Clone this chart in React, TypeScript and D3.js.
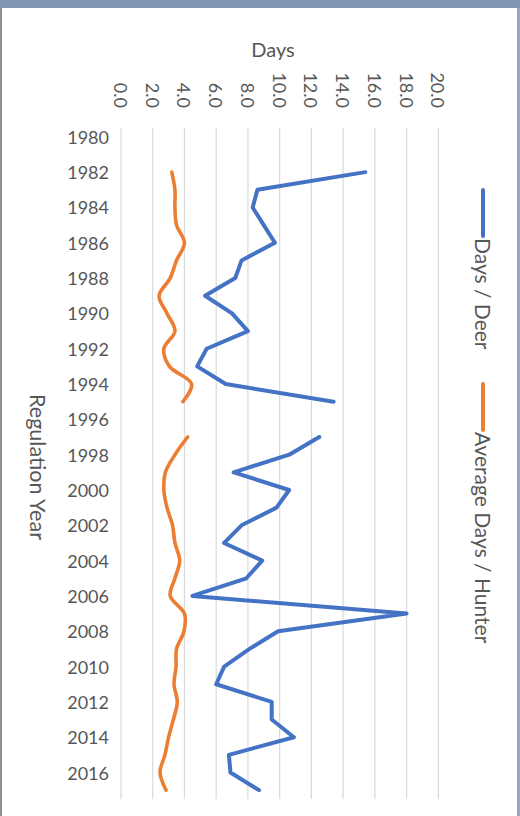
import React, { useEffect, useRef } from 'react';
import * as d3 from 'd3';

const years = [
  1980, 1981, 1982, 1983, 1984, 1985, 1986, 1987, 1988, 1989,
  1990, 1991, 1992, 1993, 1994, 1995, 1996, 1997, 1998, 1999,
  2000, 2001, 2002, 2003, 2004, 2005, 2006, 2007, 2008, 2009,
  2010, 2011, 2012, 2013, 2014, 2015, 2016, 2017,
];

// Days / Deer
const daysPerDeer: (number | null)[] = [
  null, null, 15.4, 8.6, 8.3, 9.0, 9.7, 7.6, 7.2, 5.3,
  7.0, 8.0, 5.4, 4.8, 6.6, 13.4, null, 12.5, 10.6, 7.1,
  10.6, 9.8, 7.6, 6.5, 8.9, 7.9, 4.5, 18.0, 9.9, 8.1,
  6.5, 6.0, 9.5, 9.5, 10.9, 6.8, 6.9, 8.7,
];

// Average Days / Hunter
const avgDaysPerHunter: (number | null)[] = [
  null, null, 3.2, 3.4, 3.4, 3.5, 4.0, 3.5, 3.1, 2.4,
  2.9, 3.4, 2.7, 3.05, 4.45, 3.9, null, 4.2, 3.4, 2.8,
  2.7, 2.9, 3.25, 3.4, 3.7, 3.4, 3.1, 4.0, 3.97, 3.5,
  3.47, 3.34, 3.55, 3.3, 3.0, 2.77, 2.46, 2.84,
];

const dayTicks = [0, 2, 4, 6, 8, 10, 12, 14, 16, 18, 20];
const yearTicks = years.filter((y) => y % 2 === 0);

const seriesNames = ['Days / Deer', 'Average Days / Hunter'];
const seriesColors = ['#4472C4', '#ED7D31'];

export default function App() {
  const svgRef = useRef<SVGSVGElement | null>(null);

  useEffect(() => {
    if (!svgRef.current) return;
    const svg = d3.select(svgRef.current);
    svg.selectAll('*').remove();

    const width = 520;
    const height = 816;
    const font = 'Lato, "Open Sans", sans-serif';
    const textColor = '#575757';

    // frame
    svg.append('rect').attr('x', 0).attr('y', 0).attr('width', width).attr('height', height).attr('fill', '#ffffff');
    svg.append('rect').attr('x', 0).attr('y', 0).attr('width', width).attr('height', 8).attr('fill', '#8197b6');
    svg.append('rect').attr('x', 0).attr('y', 8).attr('width', 2).attr('height', height - 8).attr('fill', '#8d8f96');
    svg.append('rect').attr('x', 517).attr('y', 8).attr('width', 3).attr('height', height - 8).attr('fill', '#9aa8c0');

    // value scale runs horizontally, categories run down the page
    const x = d3.scaleLinear().domain([0, 20]).range([121, 438.3]);
    const y = d3.scaleBand<number>().domain(years).range([128, 799]).padding(0);
    const yc = (yr: number) => (y(yr) ?? 0) + y.bandwidth() / 2;

    // gridlines
    svg.append('g')
      .selectAll('line')
      .data(dayTicks)
      .join('line')
      .attr('x1', (d) => x(d))
      .attr('x2', (d) => x(d))
      .attr('y1', 128)
      .attr('y2', 799)
      .attr('stroke', '#d9d9d9')
      .attr('stroke-width', 1.2);

    // value tick labels (rotated)
    svg.append('g')
      .selectAll('text')
      .data(dayTicks)
      .join('text')
      .attr('transform', (d) => `translate(${x(d)},108) rotate(90)`)
      .attr('text-anchor', 'end')
      .attr('dominant-baseline', 'central')
      .attr('font-family', font)
      .attr('font-size', 18)
      .attr('fill', textColor)
      .text((d) => d.toFixed(1));

    // year labels
    svg.append('g')
      .selectAll('text')
      .data(yearTicks)
      .join('text')
      .attr('x', 109)
      .attr('y', (d) => yc(d))
      .attr('text-anchor', 'end')
      .attr('dominant-baseline', 'central')
      .attr('font-family', font)
      .attr('font-size', 18)
      .attr('fill', textColor)
      .text((d) => String(d));

    // axis titles
    svg.append('text')
      .attr('x', 273)
      .attr('y', 57)
      .attr('text-anchor', 'middle')
      .attr('font-family', font)
      .attr('font-size', 20)
      .attr('fill', textColor)
      .text('Days');

    svg.append('text')
      .attr('transform', `translate(38,467) rotate(90)`)
      .attr('text-anchor', 'middle')
      .attr('dominant-baseline', 'central')
      .attr('font-family', font)
      .attr('font-size', 21.5)
      .attr('fill', textColor)
      .text('Regulation Year');

    // lines
    const series = [daysPerDeer, avgDaysPerHunter];
    const curves = [d3.curveLinear, d3.curveCatmullRom.alpha(0.5)];
    series.forEach((vals, i) => {
      const line = d3.line<number>()
        .defined((_, j) => vals[j] != null)
        .x((_, j) => x(vals[j] as number))
        .y((yr) => yc(yr))
        .curve(curves[i]);
      svg.append('path')
        .datum(years)
        .attr('d', line)
        .attr('fill', 'none')
        .attr('stroke', seriesColors[i])
        .attr('stroke-width', i === 0 ? 4 : 3.6)
        .attr('stroke-linejoin', 'round')
        .attr('stroke-linecap', 'round');
    });

    // legend (rotated)
    const legendX = 483;
    const legendItems = [
      { y0: 190, y1: 236, textY: 238 },
      { y0: 384, y1: 430, textY: 432 },
    ];
    legendItems.forEach((it, i) => {
      svg.append('line')
        .attr('x1', legendX)
        .attr('x2', legendX)
        .attr('y1', it.y0)
        .attr('y2', it.y1)
        .attr('stroke', seriesColors[i])
        .attr('stroke-width', 4)
        .attr('stroke-linecap', 'round');
      svg.append('text')
        .attr('transform', `translate(${legendX},${it.textY}) rotate(90)`)
        .attr('text-anchor', 'start')
        .attr('dominant-baseline', 'central')
        .attr('font-family', font)
        .attr('font-size', 21)
        .attr('fill', textColor)
        .text(seriesNames[i]);
    });
  }, []);

  return (
    <svg
      ref={svgRef}
      width={520}
      height={816}
      style={{ position: 'absolute', left: 0, top: 0, display: 'block' }}
    ></svg>
  );
}
